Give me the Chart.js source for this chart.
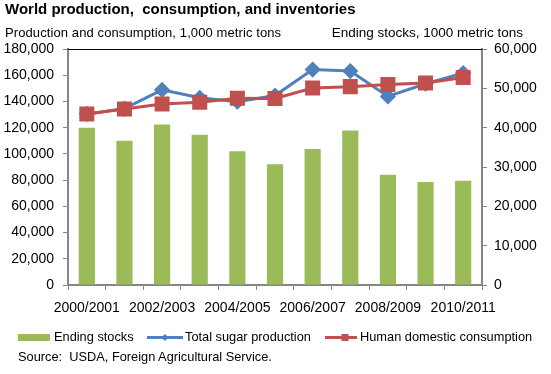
<!DOCTYPE html>
<html>
<head>
<meta charset="utf-8">
<script src="https://cdn.jsdelivr.net/npm/chart.js@4"></script>
<style>
  body { margin: 0; background: #fff; }
  #wrap { position: relative; width: 551px; height: 374px; font-family: "Liberation Sans", Arial, sans-serif; color: #000; }
  #chart { position: absolute; left: 0; top: 0; }
  .txt { position: absolute; white-space: nowrap; }
  #title { left: 5px; top: 0px; font-size: 15px; font-weight: bold; }
  #leftTitle { left: 5px; top: 25px; font-size: 13px; letter-spacing: 0.1px; }
  #rightTitle { right: 28px; top: 25px; font-size: 13.5px; }
  #source { left: 18px; top: 349px; font-size: 12.8px; }
</style>
</head>
<body>
<div id="wrap">
  <canvas id="chart" width="551" height="374"></canvas>
  <div class="txt" id="title">World production,&nbsp; consumption, and inventories</div>
  <div class="txt" id="leftTitle">Production and consumption, 1,000 metric tons</div>
  <div class="txt" id="rightTitle">Ending stocks, 1000 metric tons</div>
  <div class="txt" id="source">Source:&nbsp; USDA, Foreign Agricultural Service.</div>
</div>
<script>
// Données
const years = ['2000/2001', '2001/2002', '2002/2003', '2003/2004', '2004/2005', '2005/2006',
               '2006/2007', '2007/2008', '2008/2009', '2009/2010', '2010/2011'];
const endingStocks = [40000, 36700, 40800, 38200, 34000, 30700, 34600, 39300, 28000, 26200, 26500];
const production = [130500, 134500, 148800, 142800, 139800, 144500, 164300, 163200, 143800, 153500, 161600];
const consumption = [130500, 134300, 138100, 139400, 142500, 142200, 150300, 151300, 153000, 154000, 158300];
const leftTicks = [0, 20000, 40000, 60000, 80000, 100000, 120000, 140000, 160000, 180000];
const rightTicks = [0, 10000, 20000, 30000, 40000, 50000, 60000];

const GREEN = '#9BBB59';
const BLUE = '#4F81BD';
const RED = '#C0504D';
const AXIS = '#868686';
const FONT = { family: '"Liberation Sans", Arial, sans-serif', size: 14 };

const fmt = v => Number(v).toLocaleString('en-US');

// Bordure haute de la zone de tracé + légende dessinée à la main
const extras = {
    id: 'extras',
    afterDraw(chart) {
        const ctx = chart.ctx;
        const a = chart.chartArea;
        ctx.save();
        ctx.strokeStyle = '#000';
        ctx.lineWidth = 1;
        ctx.beginPath();
        ctx.moveTo(a.left, a.top + 0.5);
        ctx.lineTo(a.right, a.top + 0.5);
        ctx.stroke();

        ctx.font = '12.8px "Liberation Sans", Arial, sans-serif';
        ctx.textBaseline = 'middle';
        const y = 337.5;
        // Ending stocks
        ctx.fillStyle = GREEN;
        ctx.fillRect(18, y - 3.5, 32, 7);
        ctx.fillStyle = '#000';
        ctx.fillText('Ending stocks', 54, y);
        // Total sugar production
        ctx.strokeStyle = BLUE;
        ctx.lineWidth = 3;
        ctx.beginPath(); ctx.moveTo(147, y); ctx.lineTo(183, y); ctx.stroke();
        ctx.fillStyle = BLUE;
        ctx.beginPath();
        ctx.moveTo(165, y - 3.5); ctx.lineTo(168.5, y); ctx.lineTo(165, y + 3.5); ctx.lineTo(161.5, y);
        ctx.closePath(); ctx.fill();
        ctx.fillStyle = '#000';
        ctx.fillText('Total sugar production', 185, y);
        // Human domestic consumption
        ctx.strokeStyle = RED;
        ctx.beginPath(); ctx.moveTo(325, y); ctx.lineTo(357, y); ctx.stroke();
        ctx.fillStyle = RED;
        ctx.fillRect(341.5, y - 3.5, 7, 7);
        ctx.fillStyle = '#000';
        ctx.fillText('Human domestic consumption', 360, y);
        ctx.restore();
    }
};

new Chart(document.getElementById('chart').getContext('2d'), {
    type: 'bar',
    data: {
        labels: years,
        datasets: [
            {
                type: 'bar',
                label: 'Ending stocks',
                data: endingStocks,
                yAxisID: 'y1',
                backgroundColor: GREEN,
                barPercentage: 0.43,
                categoryPercentage: 1,
                order: 3
            },
            {
                type: 'line',
                label: 'Total sugar production',
                data: production,
                yAxisID: 'y',
                borderColor: BLUE,
                backgroundColor: BLUE,
                borderWidth: 3,
                pointStyle: 'rectRot',
                pointRadius: 6,
                tension: 0,
                order: 2
            },
            {
                type: 'line',
                label: 'Human domestic consumption',
                data: consumption,
                yAxisID: 'y',
                borderColor: RED,
                backgroundColor: RED,
                borderWidth: 3,
                pointStyle: 'rect',
                pointRadius: 8.5,
                tension: 0,
                order: 1
            }
        ]
    },
    plugins: [extras],
    options: {
        responsive: false,
        animation: false,
        layout: { padding: { top: 49, left: 0, right: 0, bottom: 0 } },
        plugins: {
            legend: { display: false },
            title: { display: false },
            tooltip: { enabled: false }
        },
        scales: {
            x: {
                afterFit: s => { s.height = 89; },
                grid: { display: true, drawOnChartArea: false, offset: true, tickLength: 5, color: AXIS, lineWidth: 1 },
                border: { color: AXIS, width: 2 },
                ticks: {
                    autoSkip: false,
                    maxRotation: 0,
                    padding: 10,
                    color: '#000',
                    font: FONT,
                    callback: (v, i) => (i % 2 === 0 ? years[i] : '')
                }
            },
            y: {
                position: 'left',
                min: 0,
                max: 180000,
                afterFit: s => { s.width = 68; },
                afterBuildTicks: s => { s.ticks = leftTicks.map(v => ({ value: v })); },
                grid: { display: true, drawOnChartArea: false, tickLength: 5, color: AXIS },
                border: { color: AXIS, width: 2 },
                ticks: { padding: 9, color: '#000', font: FONT, callback: v => fmt(v) }
            },
            y1: {
                position: 'right',
                min: 0,
                max: 60000,
                afterFit: s => { s.width = 69; },
                afterBuildTicks: s => { s.ticks = rightTicks.map(v => ({ value: v })); },
                grid: { display: true, drawOnChartArea: false, tickLength: 5, color: AXIS },
                border: { color: AXIS, width: 2 },
                ticks: { padding: 7, color: '#000', font: FONT, callback: v => fmt(v) }
            }
        }
    }
});
</script>
</body>
</html>
